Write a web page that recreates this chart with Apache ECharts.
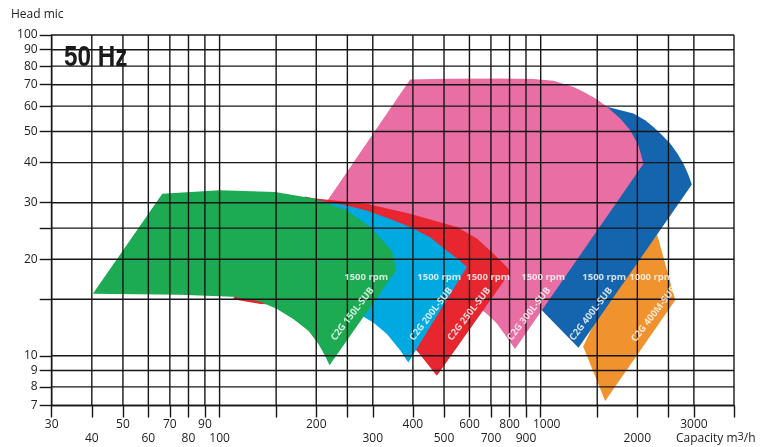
<!DOCTYPE html>
<html>
<head>
<meta charset="utf-8">
<title>C2G SUB ranges 50 Hz</title>
<script src="https://cdn.jsdelivr.net/npm/echarts@6.0.0/dist/echarts.min.js"></script>
<style>
  html, body { margin: 0; padding: 0; background: #fff; }
  #chart { width: 773px; height: 447px; }
</style>
</head>
<body>
<div id="chart"></div>
<script>
// axes (capacity m3/h, head m)
const capacityTicks = [30, 40, 50, 60, 70, 80, 90, 100, 150, 200, 250, 300, 400, 500, 600, 700, 800, 900, 1000, 1500, 2000, 2500, 3000, 4000];
const capacityLabelsTop = [30, 50, 70, 90, 200, 400, 600, 800, 1000, 3000];
const capacityLabelsBottom = [40, 60, 80, 100, 300, 500, 700, 900, 2000];
const headTicks = [7, 8, 9, 10, 15, 20, 25, 30, 40, 50, 60, 70, 80, 90, 100];
const headLabels = [7, 8, 9, 10, 20, 30, 40, 50, 60, 70, 80, 90, 100];

// working ranges, outline as [capacity, head]
const range150L = [[40.3, 15.6], [66.3, 32.0], [100, 32.8], [149, 32.4], [196, 30.9], [249, 28.4], [294, 25.2], [332, 22.1], [344, 21.2], [355, 18.5],
  [220, 9.35], [213, 10.0], [203, 10.9], [189, 11.97], [170, 13.0], [151, 14.0], [134, 14.75], [121.5, 15.07], [110, 15.29], [91, 15.4], [75, 15.5]];
const range200L = [[115.8, 16.3], [165.8, 31.2], [196, 30.7], [249, 29.4], [287, 28.4], [340, 26.7], [392, 25.2], [452, 23.4], [510, 21.3], [561, 19.8], [589, 18.9],
  [387, 9.53], [365, 10.4], [332, 11.7], [301, 12.7], [255, 14.0], [206, 14.9], [154, 15.6]];
const range250L = [[110, 15.0], [184.6, 31.4], [196, 31.0], [287, 29.8], [392, 27.7], [548, 25.2], [633, 23.2], [713, 20.8], [785, 18.9], [803, 18.2],
  [475, 8.66], [446, 9.37], [416, 10.24], [365, 11.8], [294, 13.3], [221, 14.3], [166, 14.4], [134, 14.5]];
const range300L = [[208.5, 28.8], [392, 72.7], [522, 73.1], [748, 73.2], [949, 72.9], [1096, 72.0], [1265, 68.9], [1359, 66.5], [1496, 63.0], [1608, 59.7],
  [1769, 54.9], [1900, 50.5], [2016, 45.3], [2090, 39.7],
  [832, 10.5], [785, 11.4], [730, 12.6], [680, 13.5], [603, 14.9], [522, 16.5], [421, 18.7], [316, 22.1], [237, 25.5]];
const range400L = [[927, 15.4], [1150, 52.3], [1608, 59.7], [1945, 56.9], [2116, 54.2], [2245, 51.7], [2390, 48.7], [2532, 45.9], [2662, 42.8],
  [2784, 39.7], [2879, 36.8], [2957, 34.2], [1311, 10.6], [1020, 13.7]];
const range400M = [[2306, 23.9], [2624, 14.9], [1588, 7.23], [1356, 10.7], [1587, 14.9]];

const models = ['C2G 150L-SUB', 'C2G 200L-SUB', 'C2G 250L-SUB', 'C2G 300L-SUB', 'C2G 400L-SUB', 'C2G 400M-SUB'];
const speeds = ['1500 rpm', '1500 rpm', '1500 rpm', '1500 rpm', '1500 rpm', '1000 rpm'];
const modelLabelPos = [[259.5, 13.5], [456, 13.5], [599, 13.5], [920, 13.5], [1436, 13.5], [2256, 13.5]];
const speedLabelPos = [[286, 17.6], [483, 17.6], [686, 17.6], [1018, 17.6], [1577, 17.6], [2209, 17.6]];

// back to front
const ranges = [range400M, range400L, range300L, range250L, range200L, range150L];
const rangeColors = ['#f0922e', '#1565ae', '#e96ea4', '#e8262f', '#00a9e0', '#1caa52'];

const lineColor = '#161616';
const lineWidth = 1.4;
const gridLine = { color: lineColor, width: lineWidth };
const font = 'Open Sans';

function labelSeries(pos, texts, rotate) {
  return {
    type: 'scatter', silent: true, z: 10, symbolSize: 1,
    itemStyle: { color: 'transparent' },
    data: pos.map((p, i) => ({ value: p, name: texts[i] })),
    label: { show: true, position: 'inside', rotate: rotate, formatter: '{b}', color: '#fff', fontSize: 9.5, fontWeight: 'bold', fontFamily: font }
  };
}

const chart = echarts.init(document.getElementById('chart'));

chart.setOption({
  animation: false,
  grid: { left: 51.7, right: 39, top: 35, bottom: 41.5, containLabel: false, outerBoundsMode: 'none' },
  xAxis: {
    type: 'log', logBase: 10, min: 30, max: 4000,
    axisLine: { show: true, lineStyle: gridLine },
    axisTick: { show: true, length: 12, customValues: capacityTicks, lineStyle: gridLine },
    splitLine: { show: false },
    axisLabel: {
      customValues: capacityLabelsTop.concat(capacityLabelsBottom),
      margin: 12.5, lineHeight: 14, fontSize: 12, color: '#222', fontFamily: font,
      formatter: function (v) {
        const n = Math.round(v);
        if (capacityLabelsBottom.indexOf(n) >= 0) return '\n' + n;
        if (n === 1000) return '{r|1000}';
        return String(n);
      },
      rich: { r: { padding: [0, 0, 0, 12], fontSize: 12, lineHeight: 14, color: '#222', fontFamily: font } }
    }
  },
  yAxis: {
    type: 'log', logBase: 10, min: 7, max: 100,
    axisLine: { show: true, lineStyle: gridLine },
    axisTick: { show: true, length: 12, customValues: headTicks, lineStyle: gridLine },
    splitLine: { show: false },
    axisLabel: {
      customValues: headLabels,
      margin: 14, fontSize: 12, color: '#222', fontFamily: font,
      formatter: v => String(Math.round(v))
    }
  },
  graphic: [
    { type: 'text', left: 11, top: 9, style: { text: 'Head mic', fontSize: 12, fontFamily: font, fill: '#222' } },
    { type: 'text', x: 64, y: 42.5, scaleX: 0.81, z: 20,
      style: { text: '50 Hz', fontSize: 30, fontWeight: 'bold', fontFamily: '"Liberation Sans", Arial, sans-serif', fill: '#1a1a1a' } },
    { type: 'text', left: 676, top: 431, style: {
      text: 'Capacity m{sup|3}/h', fontSize: 12, fontFamily: font, fill: '#222',
      rich: { sup: { fontSize: 11, fontFamily: font, fill: '#222', verticalAlign: 'top', padding: [0, 0, 5, 0] } }
    } }
  ],
  series: [
    {
      // ranges, then the grid over them, in one group so the order holds
      type: 'custom',
      silent: true,
      data: [[100, 10]],
      renderItem: function (params, api) {
        const cs = params.coordSys;
        const children = ranges.map((pts, i) => ({
          type: 'polygon', z2: 1,
          shape: { points: pts.map(p => api.coord(p)) },
          style: { fill: rangeColors[i] }
        }));
        capacityTicks.forEach(q => {
          const x = api.coord([q, 10])[0];
          children.push({ type: 'line', z2: 50, shape: { x1: x, y1: cs.y, x2: x, y2: cs.y + cs.height },
            style: { stroke: lineColor, lineWidth: lineWidth } });
        });
        headTicks.forEach(h => {
          const y = api.coord([100, h])[1];
          children.push({ type: 'line', z2: 50, shape: { x1: cs.x, y1: y, x2: cs.x + cs.width, y2: y },
            style: { stroke: lineColor, lineWidth: lineWidth } });
        });
        return { type: 'group', children: children };
      }
    },
    labelSeries(speedLabelPos, speeds, 0),
    labelSeries(modelLabelPos, models, 52.5)
  ]
});
</script>
</body>
</html>
